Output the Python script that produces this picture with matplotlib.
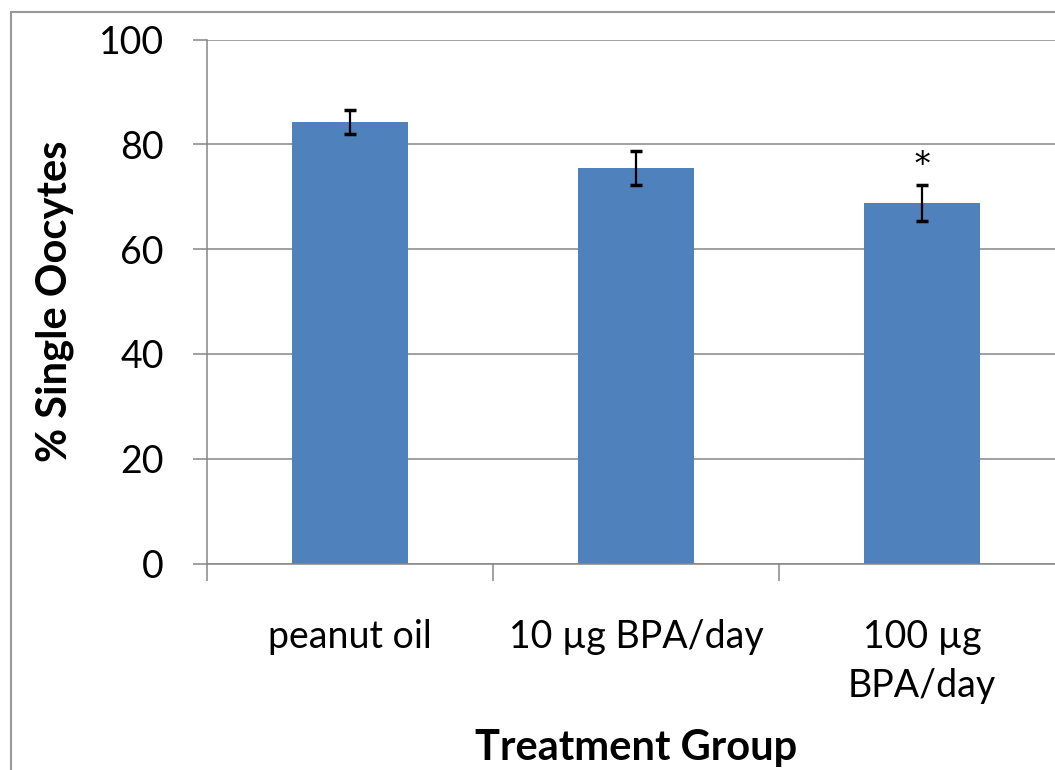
import matplotlib
matplotlib.use("Agg")
import matplotlib.pyplot as plt
from matplotlib.patches import Rectangle

groups = ["peanut oil", "10 µg BPA/day", "100 µg\nBPA/day"]
means = [84.3, 75.5, 68.8]
errs = [2.25, 3.3, 3.35]
star_group = 2
star_y = 76.0

BAR = "#4F81BD"
GRID = "#868686"
FONT = ["Lato", "DejaVu Sans"]

W, H = 1055, 770
fig = plt.figure(figsize=(W / 100, H / 100), dpi=100)
fig.patches.append(Rectangle((11 / W, -0.1), 1.2, 1 - 12 / H + 0.1, transform=fig.transFigure,
                             fill=False, edgecolor="#999999", lw=1.5))

ax = fig.add_axes([207 / W, 1 - 563.5 / H, 858 / W, 524 / H])
x = range(len(groups))
ax.bar(x, means, width=0.405, color=BAR, zorder=2)
ax.errorbar(x, means, yerr=errs, fmt="none", ecolor="black", elinewidth=1.6,
            capsize=4.5, capthick=2.5, zorder=3)
ax.text(star_group, star_y, "*", ha="center", va="center", fontsize=22,
        family="DejaVu Serif", zorder=3)

ax.set_xlim(-0.5, 2.5)
ax.set_ylim(0, 100)
ax.set_yticks(range(0, 101, 20))
ax.yaxis.grid(True, color=GRID, lw=1.1, zorder=0)
ax.tick_params(axis="y", length=10, width=1.1, color=GRID, pad=21,
               labelsize=27)
for lab in ax.get_yticklabels():
    lab.set_family(FONT)

# category boundaries as ticks, names as minor ticks
ax.set_xticks([-0.5, 0.5, 1.5, 2.5])
ax.set_xticklabels([])
ax.tick_params(axis="x", which="major", length=12, width=1.1, color=GRID)
ax.set_xticks(list(x), minor=True)
ax.set_xticklabels(groups, minor=True, family=FONT, fontsize=27, linespacing=1.45)
ax.tick_params(axis="x", which="minor", length=0, pad=40)

for s in ["top", "right"]:
    ax.spines[s].set_visible(False)
for s in ["left", "bottom"]:
    ax.spines[s].set_color(GRID)
    ax.spines[s].set_linewidth(1.1)

ax.set_ylabel("% Single Oocytes", family=FONT, fontsize=30, weight="bold", va="center")
ax.yaxis.set_label_coords(-152 / 858, 0.5)
ax.set_xlabel("Treatment Group", family=FONT, fontsize=30, weight="bold")
ax.xaxis.set_label_coords(0.5, -(748 - 563.5) / 524)
ax.xaxis.label.set_va("center")

fig.savefig("out.png", dpi=100, facecolor="white")
